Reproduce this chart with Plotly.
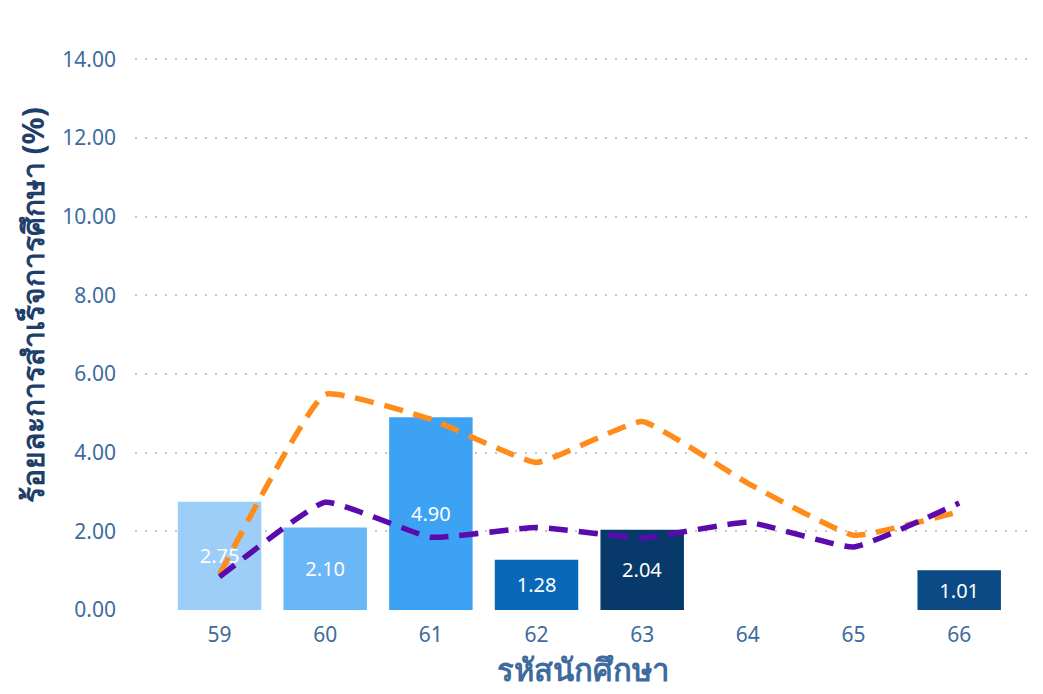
import plotly.graph_objects as go

categories = ["59", "60", "61", "62", "63", "64", "65", "66"]
bar_values = [2.75, 2.10, 4.90, 1.28, 2.04, None, None, 1.01]
bar_colors = ["#9DCEF8", "#6AB7F7", "#3DA2F4", "#0A68B8", "#07396B", "#0B4A85", "#0B4A85", "#0B4A85"]
orange_values = [0.90, 5.48, 4.85, 3.75, 4.79, 3.22, 1.90, 2.50]
purple_values = [0.84, 2.74, 1.85, 2.10, 1.83, 2.23, 1.60, 2.72]
y_title = "ร้อยละการสำเร็จการศึกษา (%)"
x_title = "รหัสนักศึกษา"

fig = go.Figure()
fig.add_trace(go.Bar(
    x=categories, y=bar_values,
    marker=dict(color=bar_colors, line=dict(width=0)),
    width=0.79,
    text=[f"{v:.2f}" if v is not None else "" for v in bar_values],
    textposition="inside", insidetextanchor="middle",
    textfont=dict(color="white", size=20, family="Noto Sans"),
    showlegend=False,
))
fig.add_trace(go.Scatter(
    x=categories, y=orange_values, mode="lines",
    line=dict(color="#FF8C1A", width=5.5, dash="19px,11px", shape="spline", smoothing=0.35),
    showlegend=False,
))
fig.add_trace(go.Scatter(
    x=categories, y=purple_values, mode="lines",
    line=dict(color="#5B0AAE", width=5.5, dash="19px,11px", shape="spline", smoothing=0.35),
    showlegend=False,
))

fig.add_annotation(
    text=f"<b>{y_title}</b>", textangle=-90,
    xref="paper", yref="paper", x=-0.115, y=0.552,
    xanchor="center", yanchor="middle", showarrow=False,
    font=dict(size=30, color="#1F3F6B", family="Noto Sans"),
)

fig.update_layout(
    width=1043, height=694,
    margin=dict(l=127, r=21, t=50, b=92),
    paper_bgcolor="white", plot_bgcolor="white",
    font=dict(family="Noto Sans", color="#3E6B9E"),
    xaxis=dict(
        type="category", range=[-0.8, 7.67],
        tickfont=dict(size=21, color="#3E6B9E"),
        ticklabelstandoff=10,
        showgrid=False, zeroline=False, showline=False, ticks="",
        title=dict(text=f"<b>{x_title}</b>", font=dict(size=31, color="#3E6B9E"), standoff=2),
    ),
    yaxis=dict(
        range=[0, 14.03], tickvals=[0, 2, 4, 6, 8, 10, 12, 14], tickformat=".2f",
        tickfont=dict(size=21, color="#3E6B9E"),
        ticklabelstandoff=18,
        showgrid=True, gridcolor="#C4C4C4", griddash="2px,8px", gridwidth=2,
        zeroline=False, showline=False, ticks="",
    ),
)

fig.write_html("out.html")
